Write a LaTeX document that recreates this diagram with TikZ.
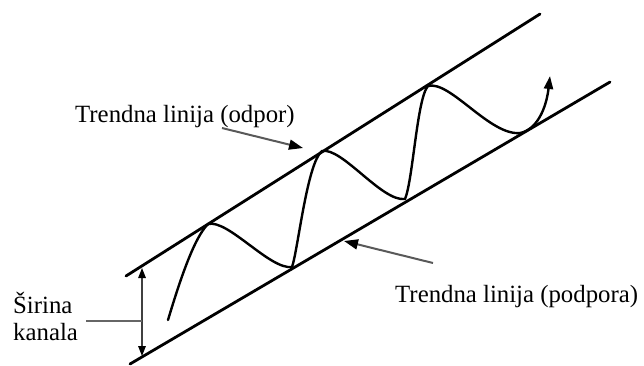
\documentclass[tikz,border=0pt]{standalone}
\usepackage{fontspec}
\setmainfont{Liberation Serif}
\usetikzlibrary{arrows.meta}
\tikzset{
  trendline/.style={line width=2.8pt, line cap=round},
  price/.style={line width=2.4pt, line cap=round, line join=miter},
  label/.style={inner sep=0pt, anchor=base west, font=\fontsize{24.8}{27}\selectfont},
  pointer/.style={line width=2pt, draw=black!65, -{Triangle[length=14pt,width=10pt,color=black]}},
  widtharrow/.style={line width=1.4pt, draw=black!75, {Triangle[length=10pt,width=7.5pt,color=black]}-{Triangle[length=10pt,width=7.5pt,color=black]}},
  leader/.style={line width=1.8pt, draw=black!60}
}
\begin{document}
\begin{tikzpicture}[x=1pt,y=-1pt]
\useasboundingbox (0,0) rectangle (644,365);
% channel lines
\coordinate (u1) at (126,276);
\coordinate (u2) at (540,14);
\coordinate (l1) at (130,364);
\coordinate (l2) at (610,82);
\draw[trendline] (u1) -- (u2);
\draw[trendline] (l1) -- (l2);
% price path
\coordinate (s0) at (168,320);
\coordinate (p1) at (208,224);
\coordinate (t1) at (292,267);
\coordinate (p2) at (322,151);
\coordinate (t2) at (405,199);
\coordinate (p3) at (428,86);
\coordinate (t3) at (520,133);
\coordinate (tip) at (550,76);
\draw[price] (s0) .. controls (180,280) and (194,238) .. (p1)
  .. controls (228,219) and (270,270) .. (t1)
  .. controls (298,250) and (307,163) .. (p2)
  .. controls (342,147) and (382,202) .. (t2)
  .. controls (413,180) and (417,98) .. (p3)
  .. controls (450,80) and (490,136) .. (t3);
\draw[price,-{Triangle[length=13pt,width=9pt]}] (t3) .. controls (536,130) and (546,110) .. (tip);
% labels
\node[label] (odpor) at (75,122) {Trendna linija (odpor)};
\node[label] (podpora) at (395,302) {Trendna linija (podpora)};
\node[label] (sir) at (13,313) {Širina};
\node[label] (kan) at (13,340) {kanala};
% pointers
\coordinate (oa) at (222,128);
\coordinate (ob) at (303,148);
\draw[pointer] (oa) -- (ob);
\coordinate (pa) at (433,263);
\coordinate (pb) at (344,241);
\draw[pointer] (pa) -- (pb);
% channel width
\coordinate (wa) at (142,268);
\coordinate (wb) at (142,356);
\coordinate (wm) at (142,321);
\draw[widtharrow] (wa) -- (wb);
\coordinate (la) at (86,321);
\draw[leader] (la) -- (wm);
\end{tikzpicture}
\end{document}
